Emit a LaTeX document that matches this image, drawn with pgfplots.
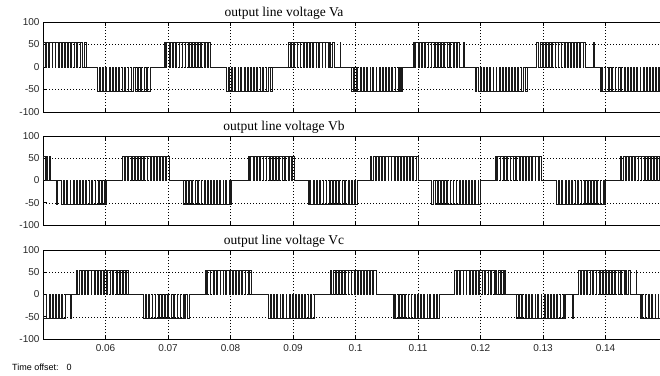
\documentclass[border=0pt]{standalone}
\usepackage{fontspec}
\setmainfont{Liberation Serif}
\setsansfont{Liberation Sans}
\usepackage{graphicx}
\usepackage{pgfplots}
\pgfplotsset{compat=1.18}
\pgfplotsset{
  scopeax/.style={
    scale only axis, width=625pt,
    xmin=50, xmax=150, ymin=-100, ymax=100,
    xtick={60,70,80,90,100,110,120,130,140},
    ytick={-100,-50,0,50,100},
    yticklabels={-100,-50,0,50,100},
    xticklabels={},
    ticklabel style={font=\sffamily\fontsize{10}{12}\selectfont, text=black!85},
    grid=major,
    major grid style={black, line width=0.5pt, dash pattern=on 0.7pt off 2.3pt},
    tick align=inside,
    major tick length=4pt,
    major tick style={black, line width=0.6pt},
    axis line style={black, line width=0.7pt},
    anchor=south west,
  },
  trace/.style={const plot, black!90, line width=0.7pt, mark=none},
}
\begin{document}
\begin{tikzpicture}
% ---------------- Va ----------------
\begin{axis}[scopeax, height=90pt, at={(43pt,263pt)}]
\addplot[trace] coordinates {
(45,0)
(49.55,54)(49.85,0)(50.05,54)(50.40,0)(50.55,54)(50.93,0)(51.05,54)(51.45,0)(51.55,54)(51.90,0)(52.05,54)(52.47,0)(52.55,54)(52.95,0)(53.05,54)(53.43,0)(53.55,54)(53.97,0)(54.05,54)(54.41,0)(54.55,54)(54.95,0)(55.05,54)(55.40,0)(55.55,54)(55.93,0)(56.05,54)(56.35,0)(56.55,54)(56.95,0)
(58.70,-54)(58.95,0)(59.15,-54)(59.50,0)(59.65,-54)(60.05,0)(60.20,-54)(60.55,0)(60.70,-54)(61.10,0)(61.18,-54)(61.60,0)(61.70,-54)(62.05,0)(62.20,-54)(62.62,0)(62.70,-54)(63.08,0)(63.22,-54)(63.60,0)(63.70,-54)(64.12,0)(64.20,-54)(64.50,0)(64.70,-54)(65.10,0)(65.25,-54)(65.60,0)(65.75,-54)(66.15,0)(66.25,-54)(66.55,0)(66.75,-54)(67.10,0)
(69.35,54)(69.60,0)(69.80,54)(70.15,0)(70.30,54)(70.70,0)(70.85,54)(71.20,0)(71.35,54)(71.75,0)(71.83,54)(72.25,0)(72.35,54)(72.70,0)(72.85,54)(73.27,0)(73.35,54)(73.73,0)(73.87,54)(74.25,0)(74.35,54)(74.77,0)(74.85,54)(75.15,0)(75.35,54)(75.75,0)(75.90,54)(76.25,0)(76.40,54)(76.80,0)
(79.30,-54)(79.60,0)(79.80,-54)(80.15,0)(80.30,-54)(80.68,0)(80.80,-54)(81.20,0)(81.30,-54)(81.65,0)(81.80,-54)(82.22,0)(82.30,-54)(82.70,0)(82.80,-54)(83.18,0)(83.30,-54)(83.72,0)(83.80,-54)(84.16,0)(84.30,-54)(84.70,0)(84.80,-54)(85.15,0)(85.30,-54)(85.68,0)(85.80,-54)(86.10,0)(86.30,-54)(86.70,0)
(89.25,54)(89.55,0)(89.75,54)(90.10,0)(90.25,54)(90.63,0)(90.75,54)(91.15,0)(91.25,54)(91.60,0)(91.75,54)(92.17,0)(92.25,54)(92.65,0)(92.75,54)(93.13,0)(93.25,54)(93.67,0)(93.75,54)(94.11,0)(94.25,54)(94.65,0)(94.75,54)(95.10,0)(95.25,54)(95.63,0)(95.75,54)(96.05,0)(96.25,54)(96.65,0)(97.50,54)(97.60,0)
(99.40,-54)(99.65,0)(99.85,-54)(100.20,0)(100.35,-54)(100.75,0)(100.90,-54)(101.25,0)(101.40,-54)(101.80,0)(101.88,-54)(102.30,0)(102.40,-54)(102.75,0)(102.90,-54)(103.32,0)(103.40,-54)(103.78,0)(103.92,-54)(104.30,0)(104.40,-54)(104.82,0)(104.90,-54)(105.20,0)(105.40,-54)(105.80,0)(105.95,-54)(106.30,0)(106.45,-54)(106.85,0)(106.95,-54)(107.25,0)(107.40,-54)(107.48,0)
(109.20,54)(109.45,0)(109.65,54)(110.00,0)(110.15,54)(110.55,0)(110.70,54)(111.05,0)(111.20,54)(111.60,0)(111.68,54)(112.10,0)(112.20,54)(112.55,0)(112.70,54)(113.12,0)(113.20,54)(113.58,0)(113.72,54)(114.10,0)(114.20,54)(114.62,0)(114.70,54)(115.00,0)(115.20,54)(115.60,0)(115.75,54)(116.10,0)(116.25,54)(116.65,0)(117.30,54)(117.40,0)
(119.10,-54)(119.40,0)(119.60,-54)(119.95,0)(120.10,-54)(120.48,0)(120.60,-54)(121.00,0)(121.10,-54)(121.45,0)(121.60,-54)(122.02,0)(122.10,-54)(122.50,0)(122.60,-54)(122.98,0)(123.10,-54)(123.52,0)(123.60,-54)(123.96,0)(124.10,-54)(124.50,0)(124.60,-54)(124.95,0)(125.10,-54)(125.48,0)(125.60,-54)(125.90,0)(126.10,-54)(126.50,0)(126.60,-54)(126.90,0)(127.10,-54)(127.45,0)
(129.00,54)(129.30,0)(129.50,54)(129.85,0)(130.00,54)(130.38,0)(130.50,54)(130.90,0)(131.00,54)(131.35,0)(131.50,54)(131.92,0)(132.00,54)(132.40,0)(132.50,54)(132.88,0)(133.00,54)(133.42,0)(133.50,54)(133.86,0)(134.00,54)(134.40,0)(134.50,54)(134.85,0)(135.00,54)(135.38,0)(135.50,54)(135.80,0)(136.00,54)(136.40,0)(136.50,54)(136.80,0)(138.10,54)(138.20,0)
(139.10,-54)(139.35,0)(139.55,-54)(139.90,0)(140.05,-54)(140.45,0)(140.60,-54)(140.95,0)(141.10,-54)(141.50,0)(141.58,-54)(142.00,0)(142.10,-54)(142.45,0)(142.60,-54)(143.02,0)(143.10,-54)(143.48,0)(143.62,-54)(144.00,0)(144.10,-54)(144.52,0)(144.60,-54)(144.90,0)(145.10,-54)(145.50,0)(145.65,-54)(146.00,0)(146.15,-54)(146.55,0)(146.65,-54)(146.95,0)(147.15,-54)(147.50,0)(147.60,-54)(148.00,0)(148.10,-54)(148.45,0)(148.60,-54)(148.95,0)(155,0)
};
\end{axis}
% ---------------- Vb ----------------
\begin{axis}[scopeax, height=89pt, at={(43pt,150pt)}]
\addplot[trace] coordinates {
(45,0)(49.60,54)(49.95,0)(50.10,54)(50.40,0)(50.60,54)(50.75,0)(51.05,54)(51.15,0)(52.15,-54)(52.25,0)
(52.95,-54)(53.25,0)(53.45,-54)(53.80,0)(53.95,-54)(54.33,0)(54.45,-54)(54.85,0)(54.95,-54)(55.30,0)(55.45,-54)(55.87,0)(55.95,-54)(56.35,0)(56.45,-54)(56.83,0)(56.95,-54)(57.37,0)(57.45,-54)(57.81,0)(57.95,-54)(58.35,0)(58.45,-54)(58.80,0)(58.95,-54)(59.33,0)(59.45,-54)(59.75,0)(59.95,-54)(60.20,0)
(62.75,54)(63.00,0)(63.20,54)(63.55,0)(63.70,54)(64.10,0)(64.25,54)(64.60,0)(64.75,54)(65.15,0)(65.23,54)(65.65,0)(65.75,54)(66.10,0)(66.25,54)(66.67,0)(66.75,54)(67.13,0)(67.27,54)(67.65,0)(67.75,54)(68.17,0)(68.25,54)(68.55,0)(68.75,54)(69.15,0)(69.30,54)(69.65,0)(69.80,54)(70.20,0)
(72.40,-54)(72.70,0)(72.90,-54)(73.25,0)(73.40,-54)(73.78,0)(73.90,-54)(74.30,0)(74.40,-54)(74.75,0)(74.90,-54)(75.32,0)(75.40,-54)(75.80,0)(75.90,-54)(76.28,0)(76.40,-54)(76.82,0)(76.90,-54)(77.26,0)(77.40,-54)(77.80,0)(77.90,-54)(78.25,0)(78.40,-54)(78.78,0)(78.90,-54)(79.20,0)(79.40,-54)(79.80,0)(79.90,-54)(80.20,0)
(82.80,54)(83.05,0)(83.25,54)(83.60,0)(83.75,54)(84.15,0)(84.30,54)(84.65,0)(84.80,54)(85.20,0)(85.28,54)(85.70,0)(85.80,54)(86.15,0)(86.30,54)(86.72,0)(86.80,54)(87.18,0)(87.32,54)(87.70,0)(87.80,54)(88.22,0)(88.30,54)(88.60,0)(88.80,54)(89.20,0)(89.35,54)(89.70,0)(89.85,54)(90.25,0)
(92.40,-54)(92.65,0)(92.85,-54)(93.20,0)(93.35,-54)(93.75,0)(93.90,-54)(94.25,0)(94.40,-54)(94.80,0)(94.88,-54)(95.30,0)(95.40,-54)(95.75,0)(95.90,-54)(96.32,0)(96.40,-54)(96.78,0)(96.92,-54)(97.30,0)(97.40,-54)(97.82,0)(97.90,-54)(98.20,0)(98.40,-54)(98.80,0)(98.95,-54)(99.30,0)(99.45,-54)(99.85,0)(99.95,-54)(100.25,0)
(102.30,54)(102.60,0)(102.80,54)(103.15,0)(103.30,54)(103.68,0)(103.80,54)(104.20,0)(104.30,54)(104.65,0)(104.80,54)(105.22,0)(105.30,54)(105.70,0)(105.80,54)(106.18,0)(106.30,54)(106.72,0)(106.80,54)(107.16,0)(107.30,54)(107.70,0)(107.80,54)(108.15,0)(108.30,54)(108.68,0)(108.80,54)(109.10,0)(109.30,54)(109.70,0)(109.80,54)(110.10,0)
(112.20,-54)(112.50,0)(112.70,-54)(113.05,0)(113.20,-54)(113.58,0)(113.70,-54)(114.10,0)(114.20,-54)(114.55,0)(114.70,-54)(115.12,0)(115.20,-54)(115.60,0)(115.70,-54)(116.08,0)(116.20,-54)(116.62,0)(116.70,-54)(117.06,0)(117.20,-54)(117.60,0)(117.70,-54)(118.05,0)(118.20,-54)(118.58,0)(118.70,-54)(119.00,0)(119.20,-54)(119.60,0)(119.70,-54)(120.00,0)
(122.30,54)(122.55,0)(122.75,54)(123.10,0)(123.25,54)(123.65,0)(123.80,54)(124.15,0)(124.30,54)(124.70,0)(124.78,54)(125.20,0)(125.30,54)(125.65,0)(125.80,54)(126.22,0)(126.30,54)(126.68,0)(126.82,54)(127.20,0)(127.30,54)(127.72,0)(127.80,54)(128.10,0)(128.30,54)(128.70,0)(128.85,54)(129.20,0)(129.35,54)(129.75,0)
(132.20,-54)(132.45,0)(132.65,-54)(133.00,0)(133.15,-54)(133.55,0)(133.70,-54)(134.05,0)(134.20,-54)(134.60,0)(134.68,-54)(135.10,0)(135.20,-54)(135.55,0)(135.70,-54)(136.12,0)(136.20,-54)(136.58,0)(136.72,-54)(137.10,0)(137.20,-54)(137.62,0)(137.70,-54)(138.00,0)(138.20,-54)(138.60,0)(138.75,-54)(139.10,0)(139.25,-54)(139.65,0)(139.75,-54)(140.05,0)
(142.30,54)(142.60,0)(142.80,54)(143.15,0)(143.30,54)(143.68,0)(143.80,54)(144.20,0)(144.30,54)(144.65,0)(144.80,54)(145.22,0)(145.30,54)(145.70,0)(145.80,54)(146.18,0)(146.30,54)(146.72,0)(146.80,54)(147.16,0)(147.30,54)(147.70,0)(147.80,54)(148.15,0)(148.30,54)(148.68,0)(148.80,54)(149.10,0)(149.30,54)(149.70,0)(155,0)
};
\end{axis}
% ---------------- Vc ----------------
\begin{axis}[scopeax, height=89pt, at={(43pt,36pt)},
  xticklabels={0.06,0.07,0.08,0.09,0.1,0.11,0.12,0.13,0.14},
  xticklabel style={yshift=-2pt}]
\addplot[trace] coordinates {
(45,0)(49.60,-54)(49.98,0)(50.10,-54)(50.52,0)(50.60,-54)(50.96,0)(51.10,-54)(51.50,0)(51.60,-54)(51.95,0)(52.10,-54)(52.48,0)(52.60,-54)(52.90,0)(53.10,-54)(53.50,0)(54.45,-54)(54.55,0)
(55.30,54)(55.55,0)(55.75,54)(56.10,0)(56.25,54)(56.65,0)(56.80,54)(57.15,0)(57.30,54)(57.70,0)(57.78,54)(58.20,0)(58.30,54)(58.65,0)(58.80,54)(59.22,0)(59.30,54)(59.68,0)(59.82,54)(60.20,0)(60.30,54)(60.72,0)(60.80,54)(61.10,0)(61.30,54)(61.70,0)(61.85,54)(62.20,0)(62.35,54)(62.75,0)(62.85,54)(63.15,0)(63.35,54)(63.70,0)
(66.05,-54)(66.35,0)(66.55,-54)(66.90,0)(67.05,-54)(67.43,0)(67.55,-54)(67.95,0)(68.05,-54)(68.40,0)(68.55,-54)(68.97,0)(69.05,-54)(69.45,0)(69.55,-54)(69.93,0)(70.05,-54)(70.47,0)(70.55,-54)(70.91,0)(71.05,-54)(71.45,0)(71.55,-54)(71.90,0)(72.05,-54)(72.43,0)(72.55,-54)(72.85,0)(73.05,-54)(73.45,0)
(75.90,54)(76.15,0)(76.35,54)(76.70,0)(76.85,54)(77.25,0)(77.40,54)(77.75,0)(77.90,54)(78.30,0)(78.38,54)(78.80,0)(78.90,54)(79.25,0)(79.40,54)(79.82,0)(79.90,54)(80.28,0)(80.42,54)(80.80,0)(80.90,54)(81.32,0)(81.40,54)(81.70,0)(81.90,54)(82.30,0)(82.45,54)(82.80,0)(82.95,54)(83.35,0)
(86.00,-54)(86.30,0)(86.50,-54)(86.85,0)(87.00,-54)(87.38,0)(87.50,-54)(87.90,0)(88.00,-54)(88.35,0)(88.50,-54)(88.92,0)(89.00,-54)(89.40,0)(89.50,-54)(89.88,0)(90.00,-54)(90.42,0)(90.50,-54)(90.86,0)(91.00,-54)(91.40,0)(91.50,-54)(91.85,0)(92.00,-54)(92.38,0)(92.50,-54)(92.80,0)(93.00,-54)(93.40,0)
(95.90,54)(96.20,0)(96.40,54)(96.75,0)(96.90,54)(97.28,0)(97.40,54)(97.80,0)(97.90,54)(98.25,0)(98.40,54)(98.82,0)(98.90,54)(99.30,0)(99.40,54)(99.78,0)(99.90,54)(100.32,0)(100.40,54)(100.76,0)(100.90,54)(101.30,0)(101.40,54)(101.75,0)(101.90,54)(102.28,0)(102.40,54)(102.70,0)(102.90,54)(103.30,0)
(106.00,-54)(106.25,0)(106.45,-54)(106.80,0)(106.95,-54)(107.35,0)(107.50,-54)(107.85,0)(108.00,-54)(108.40,0)(108.48,-54)(108.90,0)(109.00,-54)(109.35,0)(109.50,-54)(109.92,0)(110.00,-54)(110.38,0)(110.52,-54)(110.90,0)(111.00,-54)(111.42,0)(111.50,-54)(111.80,0)(112.00,-54)(112.40,0)(112.55,-54)(112.90,0)(113.05,-54)(113.45,0)
(115.80,54)(116.10,0)(116.30,54)(116.65,0)(116.80,54)(117.18,0)(117.30,54)(117.70,0)(117.80,54)(118.15,0)(118.30,54)(118.72,0)(118.80,54)(119.20,0)(119.30,54)(119.68,0)(119.80,54)(120.22,0)(120.30,54)(120.66,0)(120.80,54)(121.20,0)(121.30,54)(121.65,0)(121.80,54)(122.18,0)(122.30,54)(122.60,0)(122.80,54)(123.20,0)(123.30,54)(123.60,0)(123.85,54)(123.95,0)
(125.80,-54)(126.05,0)(126.25,-54)(126.60,0)(126.75,-54)(127.15,0)(127.30,-54)(127.65,0)(127.80,-54)(128.20,0)(128.28,-54)(128.70,0)(128.80,-54)(129.15,0)(129.30,-54)(129.72,0)(129.80,-54)(130.18,0)(130.32,-54)(130.70,0)(130.80,-54)(131.22,0)(131.30,-54)(131.60,0)(131.80,-54)(132.20,0)(132.35,-54)(132.70,0)(132.85,-54)(133.25,0)(133.35,-54)(133.65,0)(134.75,-54)(134.85,0)
(135.60,54)(135.90,0)(136.10,54)(136.45,0)(136.60,54)(136.98,0)(137.10,54)(137.50,0)(137.60,54)(137.95,0)(138.10,54)(138.52,0)(138.60,54)(139.00,0)(139.10,54)(139.48,0)(139.60,54)(140.02,0)(140.10,54)(140.46,0)(140.60,54)(141.00,0)(141.10,54)(141.45,0)(141.60,54)(141.98,0)(142.10,54)(142.40,0)(142.60,54)(143.00,0)(143.10,54)(143.40,0)(143.60,54)(143.95,0)(144.90,54)(145.00,0)
(145.50,-54)(145.75,0)(145.95,-54)(146.30,0)(146.45,-54)(146.85,0)(147.00,-54)(147.35,0)(147.50,-54)(147.90,0)(147.98,-54)(148.40,0)(148.50,-54)(148.85,0)(149.00,-54)(149.42,0)(149.50,-54)(149.88,0)(155,0)
};
\end{axis}
% titles and footer
\node[font=\fontsize{13.5}{15}\selectfont, inner sep=0pt] at (284pt,361.5pt) {output line voltage Va};
\node[font=\fontsize{13.5}{15}\selectfont, inner sep=0pt] at (284pt,247.5pt) {output line voltage Vb};
\node[font=\fontsize{13.5}{15}\selectfont, inner sep=0pt] at (284pt,133.5pt) {output line voltage Vc};
\node[font=\sffamily\fontsize{9}{11}\selectfont, anchor=west, inner sep=0pt] at (12pt,8pt) {Time offset:\hspace{8pt}0};
\pgfresetboundingbox
\path[use as bounding box] (0pt,0pt) rectangle (660pt,375pt);
\end{tikzpicture}
\end{document}
